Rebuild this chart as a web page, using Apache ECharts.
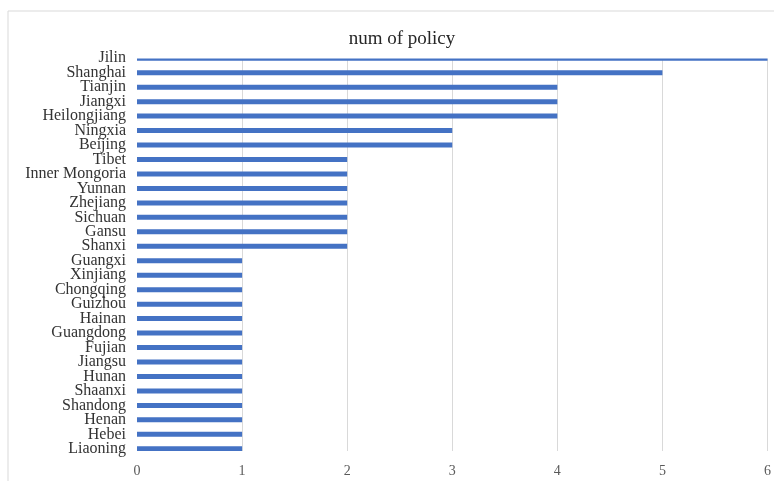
<!DOCTYPE html>
<html>
<head>
<meta charset="utf-8">
<style>
  html, body { margin: 0; padding: 0; background: #fff; }
  #chart { width: 774px; height: 481px; }
</style>
<script src="https://cdn.jsdelivr.net/npm/echarts@6/dist/echarts.min.js"></script>
</head>
<body>
<div id="chart"></div>
<script>
// provinces, top to bottom
var provinces = ['Jilin', 'Shanghai', 'Tianjin', 'Jiangxi', 'Heilongjiang', 'Ningxia', 'Beijing',
  'Tibet', 'Inner Mongoria', 'Yunnan', 'Zhejiang', 'Sichuan', 'Gansu', 'Shanxi',
  'Guangxi', 'Xinjiang', 'Chongqing', 'Guizhou', 'Hainan', 'Guangdong', 'Fujian',
  'Jiangsu', 'Hunan', 'Shaanxi', 'Shandong', 'Henan', 'Hebei', 'Liaoning'];
var numPolicy = [6, 5, 4, 4, 4, 3, 3,
  2, 2, 2, 2, 2, 2, 2,
  1, 1, 1, 1, 1, 1, 1,
  1, 1, 1, 1, 1, 1, 1];
var titleText = 'num of policy';

var serif = '"Liberation Serif", "DejaVu Serif", serif';
var myChart = echarts.init(document.getElementById('chart'));
myChart.setOption({
  animation: false,
  backgroundColor: '#fff',
  title: {
    text: titleText,
    left: 397,
    textAlign: 'center',
    top: 25,
    textStyle: { fontFamily: serif, fontSize: 19, fontWeight: 'normal', color: '#262626' }
  },
  graphic: [
    { type: 'line', shape: { x1: 8, y1: 11, x2: 774, y2: 11 }, style: { stroke: '#d9d9d9', lineWidth: 1 } },
    { type: 'line', shape: { x1: 8, y1: 11, x2: 8, y2: 481 }, style: { stroke: '#d9d9d9', lineWidth: 1 } },
    // plot area is clipped a bit tighter than the category bands (like the original)
    { type: 'rect', z: 100, shape: { x: 130, y: 48, width: 644, height: 10.5 }, style: { fill: '#fff' } },
    { type: 'rect', z: 100, shape: { x: 130, y: 451, width: 644, height: 5 }, style: { fill: '#fff' } }
  ],
  grid: { left: 137, right: 6, top: 51, bottom: 25 },
  xAxis: {
    type: 'value',
    min: 0,
    max: 6,
    interval: 1,
    axisLine: { show: false },
    axisTick: { show: false },
    splitLine: { showMinLine: false, lineStyle: { color: '#d9d9d9', width: 1 } },
    axisLabel: { fontFamily: serif, fontSize: 14, color: '#595959', margin: 8 }
  },
  yAxis: {
    type: 'category',
    data: provinces,
    inverse: true,
    axisLine: { show: false },
    axisTick: { show: false },
    axisLabel: { fontFamily: serif, fontSize: 16, color: '#333', margin: 11, interval: 0 }
  },
  series: [{
    name: titleText,
    type: 'bar',
    data: numPolicy,
    barWidth: 5,
    itemStyle: { color: '#4472C4' }
  }]
});
</script>
</body>
</html>
